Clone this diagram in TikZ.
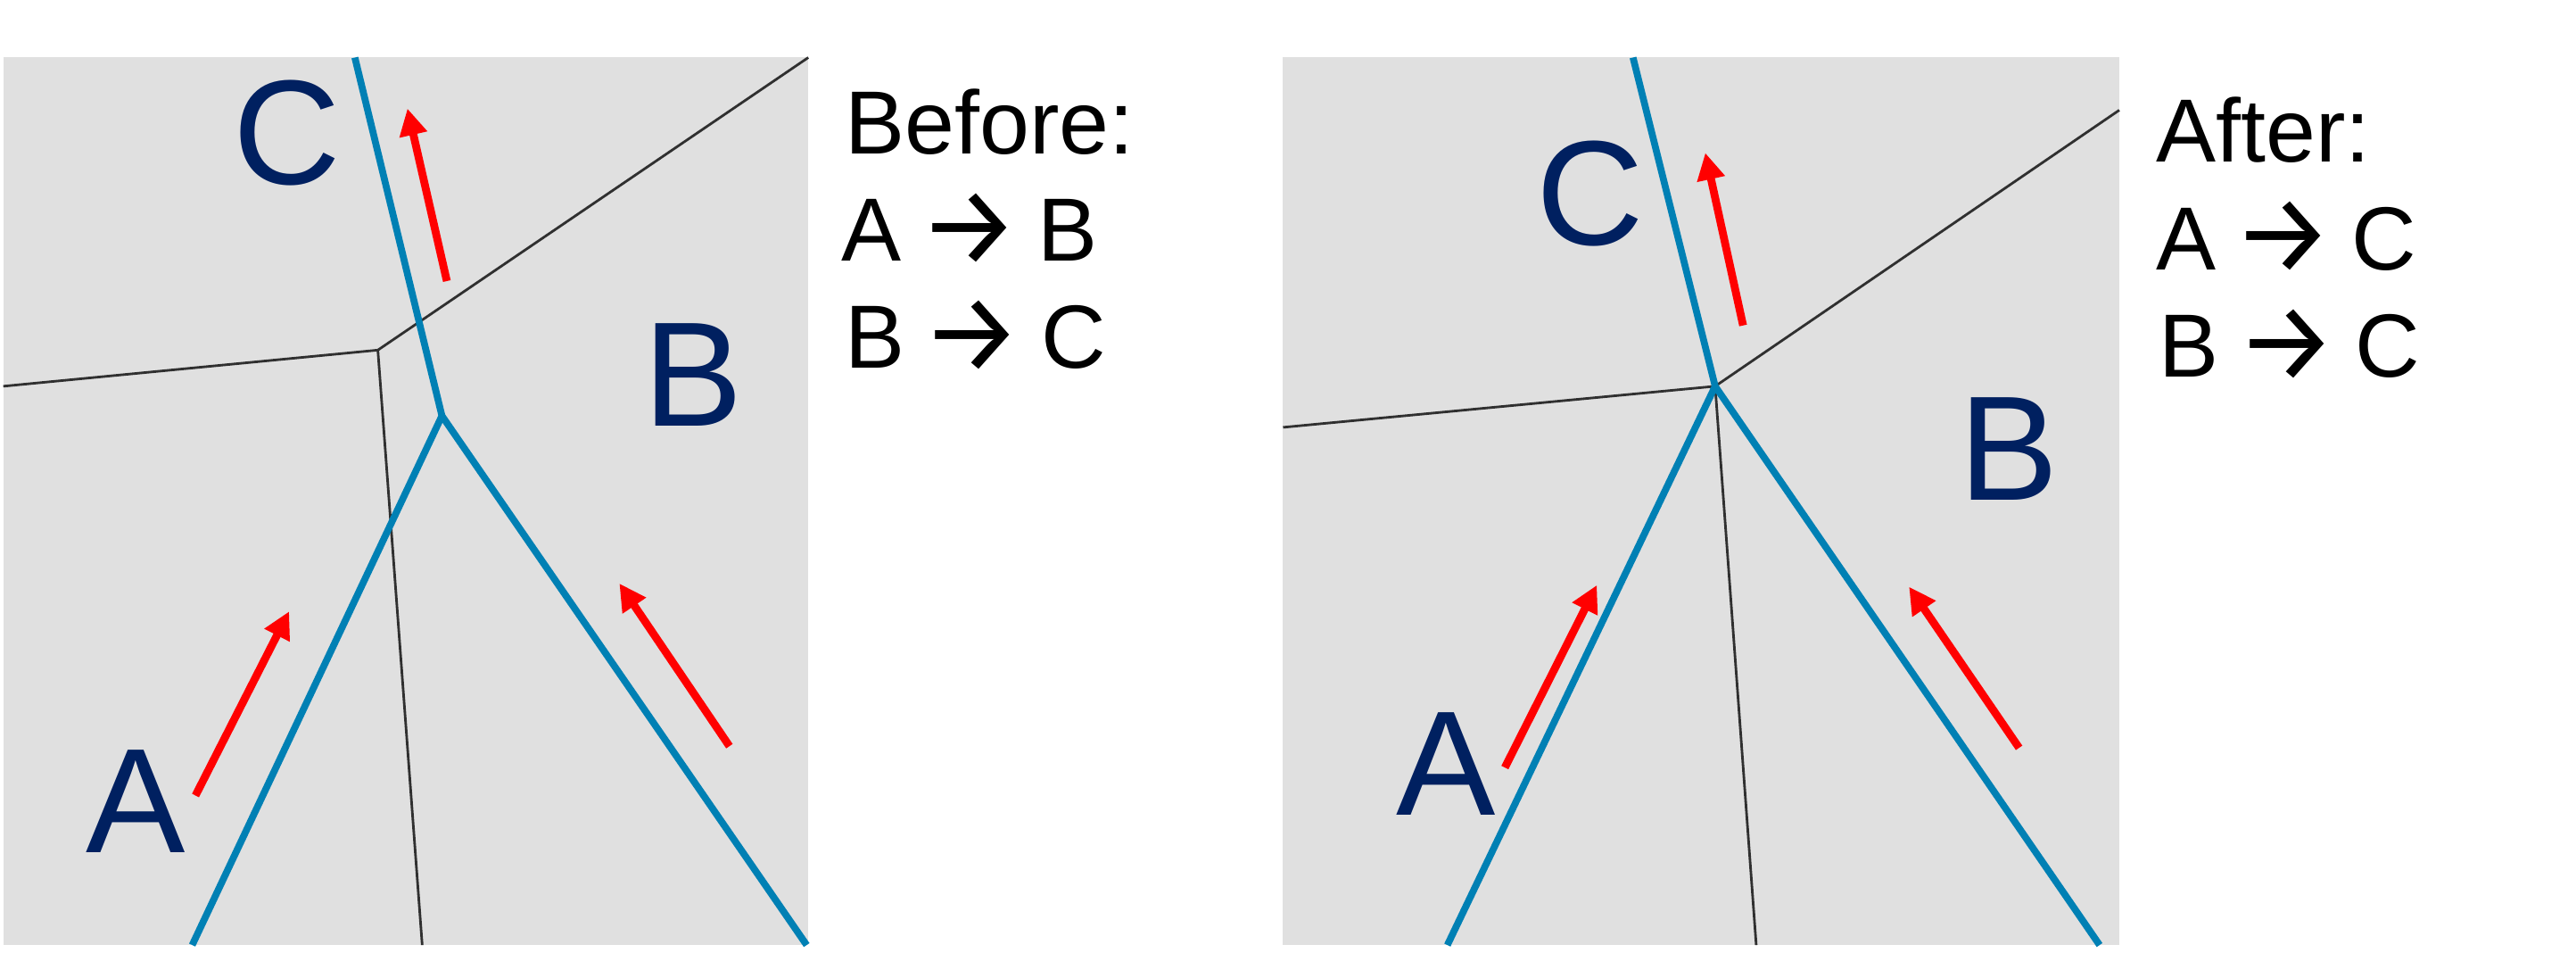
\documentclass[tikz,border=0pt]{standalone}
\usepackage{fontspec}
\setmainfont{Liberation Sans}
\newfontfamily\arrowfont{Fira Sans}
\usetikzlibrary{arrows.meta, positioning}

\definecolor{cellgray}{HTML}{E0E0E0}
\definecolor{edgeblue}{HTML}{0080B4}
\definecolor{labelnavy}{HTML}{002060}
\definecolor{edgedark}{HTML}{303030}

\newcommand{\goesto}{\hspace{5.5pt}\raisebox{-1pt}{\arrowfont\fontsize{35.5}{40}\selectfont →}\hspace{6pt}}

\tikzset{
    cell/.style={fill=cellgray, draw=none},
    bluedge/.style={draw=edgeblue, line width=2.2pt, line join=round},
    thinedge/.style={draw=edgedark, line width=0.8pt, line join=round},
    move/.style={draw=red, line width=2.5pt, -{Triangle[length=0.3cm, width=0.3cm]}},
    site/.style={text=labelnavy, inner sep=0pt, font=\fontsize{47.5}{57}\selectfont},
    rule/.style={anchor=base west, inner sep=0pt, font=\fontsize{28.6}{34}\selectfont}
}

\begin{document}
\begin{tikzpicture}[x=0.01842cm, y=-0.01842cm]
                    \useasboundingbox (0, 0) rectangle (1568, 595);

                    % before
                    \fill [cell] (2, 35) rectangle (492, 575);
                    \coordinate (Lv) at (230, 213);
                    \coordinate (Lj) at (269, 253);
                    \draw [thinedge] (2, 235) -- (Lv) -- (492, 35);
                    \draw [thinedge] (Lv) -- (257, 575);
                    \draw [bluedge] (216, 35) -- (Lj) -- (491, 575);
                    \draw [bluedge] (Lj) -- (117, 575);

                    \draw [move] (119, 484) -- (176, 372);
                    \draw [move] (272, 171) -- (248, 66);
                    \draw [move] (444, 454) -- (377, 355);

                    \node [site] (La) at (82.5, 487.5) { A };
                    \node [site] (Lb) at (422, 228) { B };
                    \node [site] (Lc) at (174.5, 81) { C };

                    \node [rule] (Lt) at (514, 93.4) { Before: };
                    \node [rule] (Lab) at (512, 159) { A\goesto B };
                    \node [rule] (Lbc) at (514, 224) { B\goesto C };

                    % after
                    \fill [cell] (781, 35) rectangle (1290, 575);
                    \coordinate (Rj) at (1044, 235);
                    \draw [thinedge] (781, 260) -- (Rj) -- (1290, 67);
                    \draw [thinedge] (Rj) -- (1069, 575);
                    \draw [bluedge] (994, 35) -- (Rj) -- (1278, 575);
                    \draw [bluedge] (Rj) -- (881, 575);

                    \draw [move] (916, 467) -- (972, 356);
                    \draw [move] (1061, 198) -- (1038, 93);
                    \draw [move] (1229, 455) -- (1162, 357);

                    \node [site] (Ra) at (880, 465) { A };
                    \node [site] (Rb) at (1223, 273) { B };
                    \node [site] (Rc) at (968, 118) { C };

                    \node [rule] (Rt) at (1312, 98.6) { After: };
                    \node [rule] (Rac) at (1312, 164) { A\goesto C };
                    \node [rule] (Rbc) at (1314, 229.6) { B\goesto C };
\end{tikzpicture}
\end{document}
